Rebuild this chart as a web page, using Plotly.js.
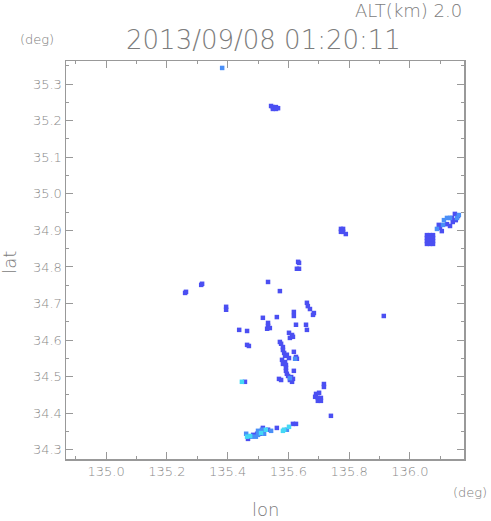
<!DOCTYPE html>
<html>
<head>
<meta charset="utf-8">
<script src="https://cdn.plot.ly/plotly-3.0.1.min.js"></script>
<style>html,body{margin:0;padding:0;background:#fff;}#chart{width:491px;height:521px;}</style>
</head>
<body>
<div id="chart"></div>
<script>
// Echo cells (lon, lat) by reflectivity class
const blueLon = [
  135.549,135.559,135.549,135.559,135.566,135.543,
  135.773,135.780,135.773,135.780,135.789,
  136.056,136.066,136.076,136.056,136.066,136.076,136.056,136.066,136.076,136.056,136.066,136.076,
  136.099,136.105,136.095,136.122,136.132,136.141,136.151,136.148,136.158,136.138,
  135.632,135.635,135.628,135.635,
  135.313,135.316,
  135.260,135.263,
  135.533,
  135.572,
  135.395,135.395,
  135.516,135.562,
  135.618,135.618,
  135.661,135.664,135.671,
  135.684,135.681,
  135.438,135.464,
  135.533,135.533,135.539,135.530,
  135.625,
  135.658,135.661,
  135.464,135.470,
  135.602,135.612,135.605,135.615,
  135.572,135.576,
  135.582,135.582,135.586,135.589,135.595,135.602,
  135.618,135.625,135.628,
  135.579,135.589,135.582,135.592,
  135.592,135.592,135.595,135.618,
  135.569,135.576,
  135.599,135.609,135.605,135.615,135.612,
  135.457,
  135.717,135.717,
  135.691,135.701,135.688,135.697,135.707,135.697,135.707,
  135.740,
  135.914,
  135.467,135.484,135.497,135.507,135.516,135.533,135.615,135.625,135.562
];
const blueLat = [
  35.237,35.237,35.232,35.232,35.234,35.240,
  34.904,34.904,34.896,34.896,34.890,
  34.887,34.887,34.887,34.879,34.879,34.879,34.871,34.871,34.871,34.863,34.863,34.863,
  34.907,34.898,34.915,34.917,34.912,34.923,34.928,34.945,34.939,34.934,
  34.814,34.811,34.795,34.795,
  34.751,34.754,
  34.729,34.732,
  34.759,
  34.734,
  34.691,34.683,
  34.661,34.663,
  34.677,34.666,
  34.702,34.693,34.685,
  34.674,34.669,
  34.628,34.625,
  34.647,34.639,34.633,34.631,
  34.642,
  34.642,34.628,
  34.587,34.584,
  34.620,34.614,34.606,34.609,
  34.595,34.590,
  34.581,34.573,34.565,34.557,34.560,34.551,
  34.568,34.554,34.549,
  34.546,34.540,34.535,34.532,
  34.524,34.516,34.508,34.516,
  34.494,34.491,
  34.502,34.499,34.491,34.494,34.486,
  34.486,
  34.480,34.472,
  34.453,34.456,34.445,34.442,34.442,34.434,34.434,
  34.393,
  34.666,
  34.330,34.341,34.344,34.344,34.360,34.355,34.371,34.371,34.360
];
const lightLon = [136.112,136.122,136.132,136.109,136.155,136.161,136.089,
  135.461,135.480,135.500,135.513,135.500,135.520,135.543,135.493,135.595,
  135.382,135.622,135.605];
const lightLat = [34.928,34.934,34.934,34.915,34.934,34.942,34.904,
  34.344,34.336,34.352,34.355,34.341,34.344,34.352,34.336,34.355,
  35.344,34.549,34.496];
const cyanLon = [135.464,135.474,135.586,135.582,135.510,135.526,135.602,135.447];
const cyanLat = [34.336,34.338,34.355,34.352,34.346,34.355,34.363,34.486];

const xTickVals = [135.0,135.2,135.4,135.6,135.8,136.0];
const yTickVals = [34.3,34.4,34.5,34.6,34.7,34.8,34.9,35.0,35.1,35.2,35.3];

const FONT = 'DejaVu Sans ExtraLight, DejaVu Sans';
const GREY = '#7c7c7c';
function tr(x, y, c) {
  return {x: x, y: y, type: 'scatter', mode: 'markers', hoverinfo: 'skip',
    marker: {symbol: 'square', size: 4.5, color: c, line: {width: 0}}};
}
const data = [tr(blueLon, blueLat, '#4b4ff2'), tr(lightLon, lightLat, '#4a8ff7'), tr(cyanLon, cyanLat, '#45d8f5')];

const axisCommon = {
  showgrid: false, zeroline: false, showline: true, linecolor: '#999', linewidth: 1.5,
  mirror: 'allticks', ticks: 'inside', ticklen: 7, tickcolor: '#999', tickwidth: 1,
  tickfont: {family: FONT, size: 13, color: '#8a8a8a', weight: 200}, tickformat: '.1f'
};
const layout = {
  width: 491, height: 521,
  margin: {l: 66, r: 27, t: 61, b: 62},
  paper_bgcolor: '#fff', plot_bgcolor: '#fff',
  showlegend: false,
  xaxis: Object.assign({}, axisCommon, {
    range: [134.868, 136.178], tickmode: 'array', tickvals: xTickVals,
    minor: {dtick: 0.1, tick0: 135.0, ticks: 'inside', ticklen: 3, tickcolor: '#999'}
  }),
  yaxis: Object.assign({}, axisCommon, {
    range: [34.275, 35.363], tickmode: 'array', tickvals: yTickVals,
    minor: {dtick: 0.05, tick0: 34.3, ticks: 'inside', ticklen: 3, tickcolor: '#999'}
  }),
  annotations: [
    {text: '2013/09/08 01:20:11', xref: 'paper', yref: 'paper', x: 0.497, y: 1.053,
     xanchor: 'center', yanchor: 'middle', showarrow: false, font: {family: FONT, size: 26, color: GREY, weight: 200}},
    {text: 'ALT(km) 2.0', xref: 'paper', yref: 'paper', x: 1.0, y: 1.128,
     xanchor: 'right', yanchor: 'middle', showarrow: false, font: {family: FONT, size: 18, color: GREY, weight: 200}},
    {text: '(deg)', xref: 'paper', yref: 'paper', x: -0.12, y: 1.055,
     xanchor: 'left', yanchor: 'middle', showarrow: false, font: {family: FONT, size: 13, color: GREY, weight: 200}},
    {text: '(deg)', xref: 'paper', yref: 'paper', x: 1.062, y: -0.083,
     xanchor: 'right', yanchor: 'middle', showarrow: false, font: {family: FONT, size: 13, color: GREY, weight: 200}},
    {text: 'lon', xref: 'paper', yref: 'paper', x: 0.5, y: -0.128,
     xanchor: 'center', yanchor: 'middle', showarrow: false, font: {family: FONT, size: 18, color: GREY, weight: 200}},
    {text: 'lat', xref: 'paper', yref: 'paper', x: -0.141, y: 0.495, textangle: -90,
     xanchor: 'center', yanchor: 'middle', showarrow: false, font: {family: FONT, size: 18, color: GREY, weight: 200}}
  ]
};
Plotly.newPlot('chart', data, layout, {staticPlot: true, displayModeBar: false});
</script>
</body>
</html>
